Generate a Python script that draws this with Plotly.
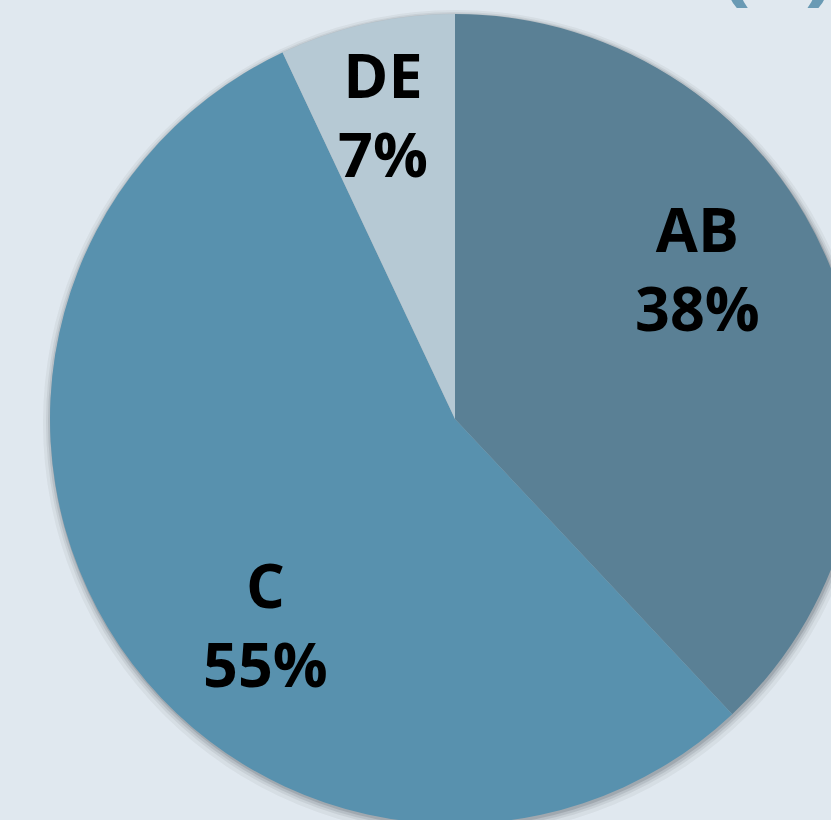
import plotly.graph_objects as go

labels = ["AB", "C", "DE"]
values = [38, 55, 7]
colors = ["#5a8095", "#5891ae", "#b6c9d4"]

PLOT = 836            # plot area size (px)
DIAM = 810            # pie diameter (px)
CX, CY = 455, 419     # pie centre in page pixels
ML = CX - PLOT // 2
MT = CY - PLOT // 2
MR, MB = 40, 10
W, H = ML + PLOT + MR, MT + PLOT + MB


def dom(diam, dx=0.0, dy=0.0):
    x0 = (PLOT / 2 + dx - diam / 2) / PLOT
    y0 = (PLOT / 2 - dy - diam / 2) / PLOT
    x0 = max(0.0, x0)
    y0 = max(0.0, y0)
    return dict(x=[x0, min(1.0, x0 + diam / PLOT)], y=[y0, min(1.0, y0 + diam / PLOT)])


fig = go.Figure()
# blurred drop shadow built from a few translucent discs
for diam, off, alpha in [(826, 4, 0.05), (820, 3, 0.07), (816, 2.5, 0.10), (812, 2, 0.14)]:
    fig.add_trace(go.Pie(
        values=[1], labels=["shadow"],
        marker=dict(colors=[f"rgba(30,35,45,{alpha})"], line=dict(width=0)),
        textinfo="none", hoverinfo="skip", sort=False, showlegend=False,
        domain=dom(diam, 1, off),
    ))
fig.add_trace(go.Pie(
    labels=labels, values=values, sort=False, direction="clockwise", rotation=0,
    marker=dict(colors=colors, line=dict(width=0)),
    textinfo="none", showlegend=False,
    domain=dom(DIAM),
))


def px(xp, yp):
    return (xp - ML) / PLOT, 1 - (yp - MT) / PLOT


pos = {"AB": px(697, 268), "C": px(265, 624), "DE": px(383, 114)}
total = sum(values)
for lab, v in zip(labels, values):
    x, y = pos[lab]
    fig.add_annotation(
        x=x, y=y, xref="paper", yref="paper", showarrow=False,
        xanchor="center", yanchor="middle",
        text=f"<b>{lab}</b><br><b>{round(100 * v / total)}%</b>",
        font=dict(family="Open Sans", size=61, color="#000000"),
        align="center",
    )

fig.add_annotation(
    x=px(777, 0)[0], y=px(0, 22)[1], xref="paper", yref="paper",
    showarrow=False, xanchor="center", yanchor="bottom", text="<b>(a)</b>",
    font=dict(family="Open Sans", size=90, color="#6a9ab4"),
)

fig.update_layout(
    width=W, height=H,
    margin=dict(l=ML, r=MR, t=MT, b=MB),
    paper_bgcolor="#e0e8ef", plot_bgcolor="#e0e8ef",
)

fig.write_html("out.html", post_script="document.body.style.margin='0';document.body.style.overflow='hidden';document.documentElement.style.overflow='hidden';document.body.style.background='#e0e8ef';")
